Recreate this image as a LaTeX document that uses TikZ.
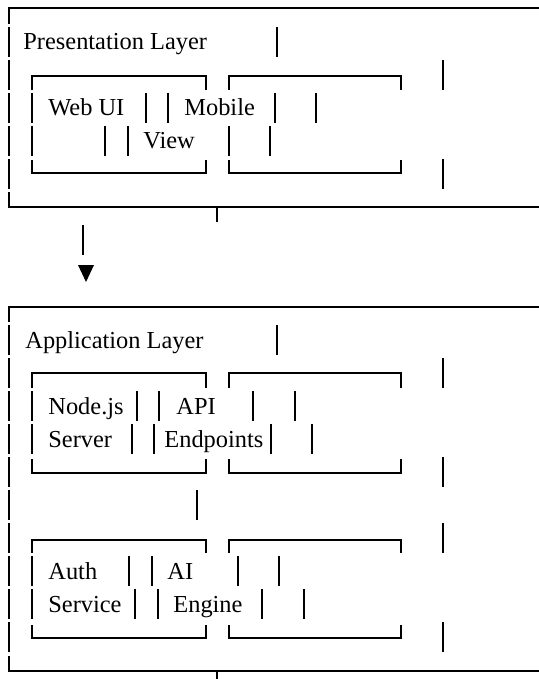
\documentclass[tikz,border=0pt]{standalone}
\usepackage{fontspec}
\setmainfont{Liberation Serif}
\usetikzlibrary{positioning}

\begin{document}
\begin{tikzpicture}[
  x=0.5pt,
  y=-0.5pt,
  line cap=butt,
  line join=miter,
  every node/.style={font=\fontsize{12.2}{14}\selectfont, inner sep=0pt, anchor=base west}
]

% ---------- styles ----------
\tikzset{
  rule/.style={draw=black, line width=0.6pt},
  bar/.style={draw=black, line width=0.8pt},
  tip/.style={fill=black}
}

\useasboundingbox (0,0) rectangle (539,679);

% ---------- presentation layer ----------
\draw[rule] (9,24) -- (9,8) -- (539,8);
\foreach \b in {50,83,116,149,182} {
  \draw[bar] (9,\b-23) -- (9,\b+7);
}
\draw[rule] (9,192) -- (9,207) -- (539,207);
\draw[bar] (217,207) -- (217,222);

\foreach \l/\r in {32/206,229/401} {
  \draw[rule] (\l,90) -- (\l,76) -- (\r,76) -- (\r,90);
  \draw[rule] (\l,160) -- (\l,173) -- (\r,173) -- (\r,160);
}
\foreach \x/\b in {277/50, 443/83, 32/116, 146/116, 168/116, 275/116, 316/116,
                   32/149, 105/149, 128/149, 229/149, 270/149, 443/182} {
  \draw[bar] (\x,\b-23) -- (\x,\b+7);
}

\node (presTitle) at (23,50) {Presentation Layer};
\node (webText) at (48,116) {Web UI};
\node (mobileText) at (184,116) {Mobile};
\node (viewText) at (143,149) {View};

% ---------- arrow down ----------
\draw[bar] (83,225) -- (83,255);
\fill[tip] (78,265) -- (94,265) -- (86,282) -- cycle;

% ---------- application layer ----------
\draw[rule] (9,322) -- (9,307) -- (539,307);
\foreach \b in {348,381,414,447,480,513,546,579,612,645} {
  \draw[bar] (9,\b-23) -- (9,\b+7);
}
\draw[rule] (9,656) -- (9,671) -- (539,671);
\draw[bar] (217,671) -- (217,679);

\foreach \l/\r in {32/206,229/401} {
  \draw[rule] (\l,388) -- (\l,373) -- (\r,373) -- (\r,388);
  \draw[rule] (\l,459) -- (\l,473) -- (\r,473) -- (\r,459);
  \draw[rule] (\l,553) -- (\l,540) -- (\r,540) -- (\r,553);
  \draw[rule] (\l,625) -- (\l,638) -- (\r,638) -- (\r,625);
}
\foreach \x/\b in {277/348, 443/381, 32/414, 137/414, 159/414, 253/414, 295/414,
                   32/447, 132/447, 154/447, 271/447, 312/447, 443/480,
                   197/513, 443/546, 32/579, 129/579, 152/579, 238/579, 279/579,
                   32/612, 135/612, 158/612, 262/612, 304/612, 443/645} {
  \draw[bar] (\x,\b-23) -- (\x,\b+7);
}

\node (appTitle) at (25,348) {Application Layer};
\node (nodeText) at (48,414) {Node.js};
\node (apiText) at (176,414) {API};
\node (serverText) at (48,447) {Server};
\node (endpointsText) at (164,447) {Endpoints};
\node (authText) at (48,579) {Auth};
\node (aiText) at (167,579) {AI};
\node (serviceText) at (48,612) {Service};
\node (engineText) at (173,612) {Engine};

\end{tikzpicture}
\end{document}
